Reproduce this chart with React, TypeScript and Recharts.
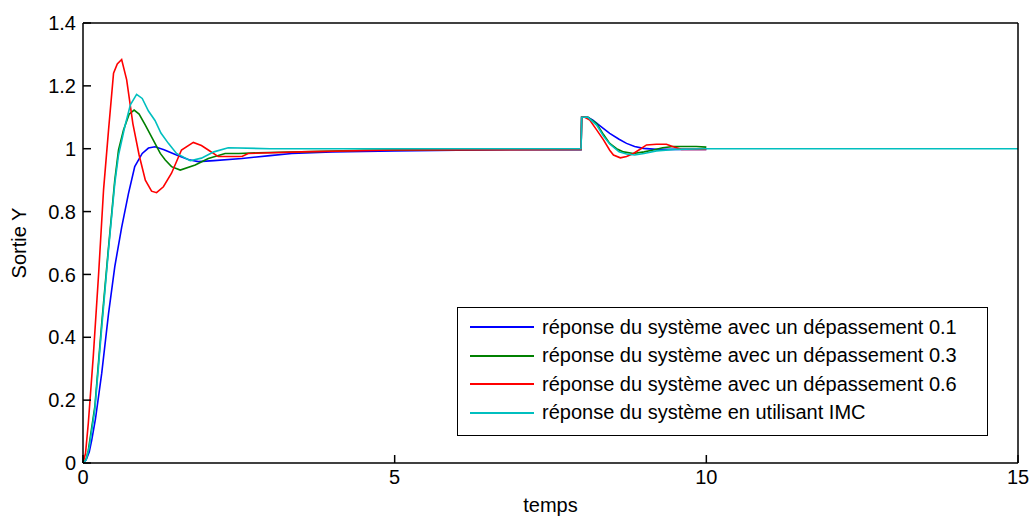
import { LineChart, Line, XAxis, YAxis, Legend } from 'recharts'

// time / output samples
const tBlue = [0, 0.05, 0.1, 0.14, 0.2, 0.3, 0.41, 0.51, 0.62, 0.73, 0.83, 0.95, 1.05, 1.155, 1.3, 1.5, 1.7, 1.85, 2.1, 2.55, 3.0, 3.35, 4.0, 5.0, 6.0, 7.0, 7.99, 8.0, 8.1, 8.18, 8.3, 8.45, 8.6, 8.72, 8.85, 8.99, 9.2, 9.5, 10]
const yBlue = [0, 0.01, 0.035, 0.073, 0.14, 0.285, 0.476, 0.625, 0.75, 0.858, 0.943, 0.985, 1.002, 1.006, 0.997, 0.98, 0.965, 0.959, 0.962, 0.969, 0.978, 0.985, 0.99, 0.993, 0.995, 0.997, 0.997, 1.1, 1.1, 1.091, 1.072, 1.049, 1.03, 1.017, 1.007, 1.001, 0.998, 0.998, 0.998]

const tGreen = [0, 0.05, 0.085, 0.19, 0.3, 0.41, 0.51, 0.57, 0.65, 0.74, 0.82, 0.9, 1.0, 1.1, 1.24, 1.32, 1.42, 1.56, 1.8, 2.01, 2.28, 2.5, 2.81, 3.5, 4.5, 6, 7.99, 8.0, 8.1, 8.24, 8.35, 8.45, 8.56, 8.67, 8.83, 9.0, 9.15, 9.3, 9.47, 9.84, 10]
const yGreen = [0, 0.012, 0.04, 0.179, 0.444, 0.688, 0.9, 0.996, 1.06, 1.11, 1.123, 1.11, 1.075, 1.038, 0.985, 0.964, 0.943, 0.932, 0.948, 0.969, 0.985, 0.985, 0.987, 0.99, 0.995, 0.997, 0.998, 1.1, 1.1, 1.08, 1.045, 1.017, 1.0, 0.99, 0.985, 0.99, 0.996, 1.003, 1.007, 1.007, 1.005]

const tRed = [0, 0.04, 0.085, 0.165, 0.25, 0.33, 0.41, 0.49, 0.55, 0.62, 0.7, 0.8, 0.9, 1.0, 1.1, 1.18, 1.29, 1.42, 1.58, 1.77, 1.9, 2.01, 2.17, 2.55, 2.65, 3.5, 5, 7.99, 8.0, 8.05, 8.13, 8.24, 8.35, 8.45, 8.51, 8.62, 8.72, 8.83, 8.95, 9.04, 9.2, 9.36, 9.47, 9.6, 10]
const yRed = [0, 0.03, 0.126, 0.34, 0.6, 0.87, 1.06, 1.24, 1.27, 1.284, 1.22, 1.08, 0.98, 0.9, 0.865, 0.86, 0.879, 0.922, 0.996, 1.02, 1.01, 0.996, 0.975, 0.975, 0.985, 0.99, 0.996, 0.998, 1.1, 1.1, 1.091, 1.06, 1.028, 0.995, 0.98, 0.971, 0.975, 0.985, 1.0, 1.012, 1.014, 1.014, 1.006, 0.998, 0.998]

const tCyan = [0, 0.05, 0.1, 0.19, 0.3, 0.41, 0.51, 0.57, 0.67, 0.76, 0.86, 0.95, 1.05, 1.155, 1.25, 1.37, 1.5, 1.72, 1.9, 2.1, 2.33, 3, 5, 7.99, 8.0, 8.1, 8.24, 8.35, 8.45, 8.6, 8.72, 8.85, 9.0, 9.2, 9.5, 10, 15]
const yCyan = [0, 0.01, 0.05, 0.17, 0.43, 0.68, 0.89, 0.98, 1.07, 1.14, 1.173, 1.16, 1.12, 1.09, 1.05, 1.017, 0.985, 0.962, 0.97, 0.99, 1.003, 1.0, 1.0, 1.0, 1.1, 1.1, 1.075, 1.04, 1.015, 0.99, 0.983, 0.98, 0.985, 0.993, 0.998, 1.0, 1.0]

const xTicks = [0, 5, 10, 15]
const yTicks = [0, 0.2, 0.4, 0.6, 0.8, 1, 1.2, 1.4]

const toPoints = (t: number[], y: number[]) => t.map((v, i) => ({ t: v, y: y[i] }))

const series = [
  { name: 'réponse du système avec un dépassement 0.1', color: '#0000ff', data: toPoints(tBlue, yBlue) },
  { name: 'réponse du système avec un dépassement 0.3', color: '#008000', data: toPoints(tGreen, yGreen) },
  { name: 'réponse du système avec un dépassement 0.6', color: '#ff0000', data: toPoints(tRed, yRed) },
  { name: 'réponse du système en utilisant IMC', color: '#00bfbf', data: toPoints(tCyan, yCyan) },
]

const font = '"Liberation Sans", Arial, sans-serif'
const tickStyle = { fill: '#000', fontSize: 20, fontFamily: font }

function LegendBox() {
  return (
    <div
      style={{
        border: '1.5px solid #000',
        background: '#fff',
        boxSizing: 'border-box',
        width: '100%',
        height: '100%',
        padding: '5px 0 0 12px',
        fontFamily: font,
        fontSize: 20,
        color: '#000',
      }}
    >
      {series.map(s => (
        <div key={s.name} style={{ display: 'flex', alignItems: 'center', height: 28.5 }}>
          <span style={{ display: 'inline-block', width: 64, height: 2, background: s.color, marginRight: 8 }} />
          <span>{s.name}</span>
        </div>
      ))}
    </div>
  )
}

export default function App() {
  return (
    <div style={{ position: 'absolute', left: 0, top: 0, background: '#fff' }}>
      <LineChart width={1032} height={521} margin={{ top: 22, right: 13, bottom: 18, left: 23 }}>
        <XAxis
          dataKey="t"
          type="number"
          domain={[0, 15]}
          ticks={xTicks}
          height={40}
          stroke="#000"
          strokeWidth={1.5}
          tickSize={-8}
          tickMargin={15}
          tick={tickStyle}
          label={(props: any) => {
            const vb = props.viewBox
            return (
              <text x={vb.x + vb.width / 2} y={vb.y + 49} textAnchor="middle" fontSize={20} fontFamily={font} fill="#000">
                temps
              </text>
            )
          }}
        />
        <XAxis
          xAxisId="top"
          orientation="top"
          dataKey="t"
          type="number"
          domain={[0, 15]}
          ticks={xTicks}
          height={1}
          stroke="#000"
          strokeWidth={1.5}
          tickSize={-8}
          tick={false}
        />
        <YAxis
          type="number"
          domain={[0, 1.4]}
          ticks={yTicks}
          width={60}
          stroke="#000"
          strokeWidth={1.5}
          tickSize={-8}
          tickMargin={15}
          tick={tickStyle}
          label={(props: any) => {
            const vb = props.viewBox
            const cx = vb.x - 4
            const cy = vb.y + vb.height / 2
            return (
              <text x={cx} y={cy} transform={`rotate(-90 ${cx} ${cy})`} textAnchor="middle" dominantBaseline="central" fontSize={20} fontFamily={font} fill="#000">
                Sortie Y
              </text>
            )
          }}
        />
        <YAxis
          yAxisId="right"
          orientation="right"
          type="number"
          domain={[0, 1.4]}
          ticks={yTicks}
          width={1}
          stroke="#000"
          strokeWidth={1.5}
          tickSize={-8}
          tick={false}
        />
        <Legend
          layout="vertical"
          align="center"
          verticalAlign="middle"
          content={() => <LegendBox />}
          wrapperStyle={{ position: 'absolute', left: 457, top: 307, width: 531, height: 129 }}
        />
        {/* invisible copy so the mirrored top/right axes get a domain and draw the box */}
        <Line
          xAxisId="top"
          yAxisId="right"
          data={series[3].data}
          dataKey="y"
          stroke="none"
          dot={false}
          activeDot={false}
          legendType="none"
          isAnimationActive={false}
        />
        {series.map(s => (
          <Line
            key={s.name}
            data={s.data}
            dataKey="y"
            name={s.name}
            type="linear"
            stroke={s.color}
            strokeWidth={1.6}
            dot={false}
            activeDot={false}
            isAnimationActive={false}
          />
        ))}
      </LineChart>
    </div>
  )
}
